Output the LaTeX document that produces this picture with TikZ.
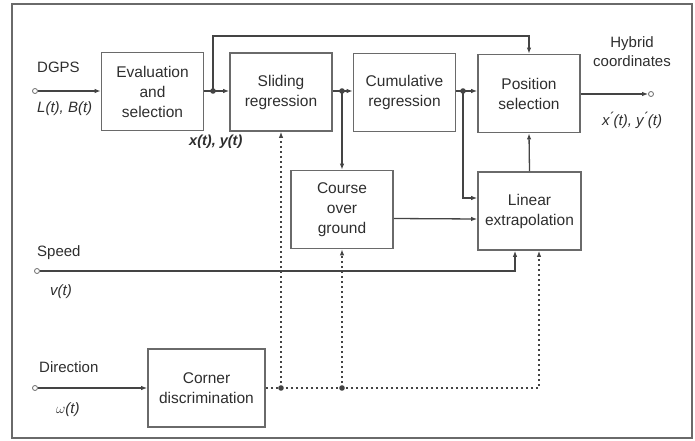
\documentclass[tikz,border=0pt]{standalone}
\usepackage{fontspec}
\setmainfont{Liberation Sans}
\usetikzlibrary{arrows.meta}

\definecolor{linegray}{HTML}{444444}
\definecolor{boxgray}{HTML}{6A6A6A}
\definecolor{textgray}{HTML}{2E2E2E}

\tikzset{
  block/.style={draw=boxgray, line width=1.7pt, minimum width=102pt, minimum height=78pt,
    align=center, text=textgray, font=\fontsize{15.5}{20}\selectfont, inner sep=1pt},
  arr/.style={draw=linegray, line width=1.3pt, -{Latex[length=6pt,width=4.5pt]}},
  dotarr/.style={arr, dash pattern=on 2.2pt off 2.8pt},
  port/.style={circle, draw=boxgray, line width=0.8pt, fill=white, inner sep=0pt, minimum size=5pt},
  lbl/.style={text=textgray, font=\fontsize{15}{19}\selectfont, inner sep=0pt, align=center},
  sig/.style={lbl, font=\fontsize{15}{19}\selectfont\itshape},
}

\begin{document}
\begin{tikzpicture}[x=1pt, y=-1pt]
    % Picture size and frame
    \useasboundingbox (0,0) rectangle (695,441);
    \draw[boxgray, line width=1.8pt] (12,4) rectangle (692,438);

    % Blocks
    \node[block] (eval)   at (152.5,91.5) {Evaluation\\and\\selection};
    \node[block] (slide)  at (281,92)     {Sliding\\regression};
    \node[block] (cumul)  at (404.5,92.5) {Cumulative\\regression};
    \node[block] (possel) at (529,93.5)   {Position\\selection};
    \node[block] (course) at (342,209.5)  {Course\\over\\ground};
    \node[block, minimum width=103pt] (linex) at (529.5,211) {Linear\\extrapolation};
    \node[block, minimum width=117pt] (corner) at (206.5,388) {Corner\\discrimination};

    % Inputs and output
    \node[port] (dgps)  at (35,91)  {};
    \node[port] (speed) at (37,271) {};
    \node[port] (dir)   at (35,388) {};
    \node[port] (out)   at (651,94) {};

    % Branch points
    \coordinate (d1) at (213,91);
    \coordinate (d2) at (342,91);
    \coordinate (d3) at (463,91);
    \coordinate (top) at (213,36);
    \coordinate (e1) at (281,388);
    \coordinate (e2) at (342,388);
    \foreach \p in {d1,d2,d3,e1,e2} {
      \fill[linegray] (\p) circle (2.8pt);
    }

    % Main path
    \draw[arr] (dgps) -- (eval.west |- dgps);
    \draw[arr] (eval.east |- d1) -- (slide.west |- d1);
    \draw[arr] (d1) -- (top) -| (possel.north);
    \draw[arr] (slide.east |- d2) -- (cumul.west |- d2);
    \draw[arr] (d2) -- (course.north);
    \draw[arr] (cumul.east |- d3) -- (possel.west |- d3);
    \draw[arr] (d3) |- ([yshift=13pt]linex.west);
    \draw[arr] ([yshift=-9pt]course.east) -- ([yshift=-8pt]linex.west);
    \draw[arr] (linex.north) -- (possel.south);
    \draw[arr] (possel.east |- out) -- (out);

    % Speed and direction
    \draw[arr] (speed) -| ([xshift=-14.5pt]linex.south);
    \draw[arr] (dir) -- (corner.west);

    % Corner signals
    \draw[dotarr] (corner.east) -| ([xshift=9.5pt]linex.south);
    \draw[dotarr] (e1) -- (slide.south);
    \draw[dotarr] (e2) -- (course.south);

    % Labels
    \node[lbl, anchor=base west] (dgpslbl) at (37,73) {DGPS};
    \node[sig, anchor=base west] (lblb) at (37,113) {L(t), B(t)};
    \node[sig, anchor=base west, font=\fontsize{14.5}{19}\selectfont\bfseries\itshape] (xylbl) at (189,145) {x(t), y(t)};
    \node[lbl, anchor=base] (hyb) at (632,67) {Hybrid\\coordinates};
    \node[sig, anchor=base] (xyout) at (632,125) {x\'{}(t), y\'{}(t)};
    \node[lbl, anchor=base west] (spd) at (37,256) {Speed};
    \node[sig, anchor=base west] (vt) at (50,295) {v(t)};
    \node[lbl, anchor=base west] (dirlbl) at (39,372) {Direction};
    \node[sig, anchor=base west] (wt) at (56,413) {$\omega$(t)};
\end{tikzpicture}
\end{document}
